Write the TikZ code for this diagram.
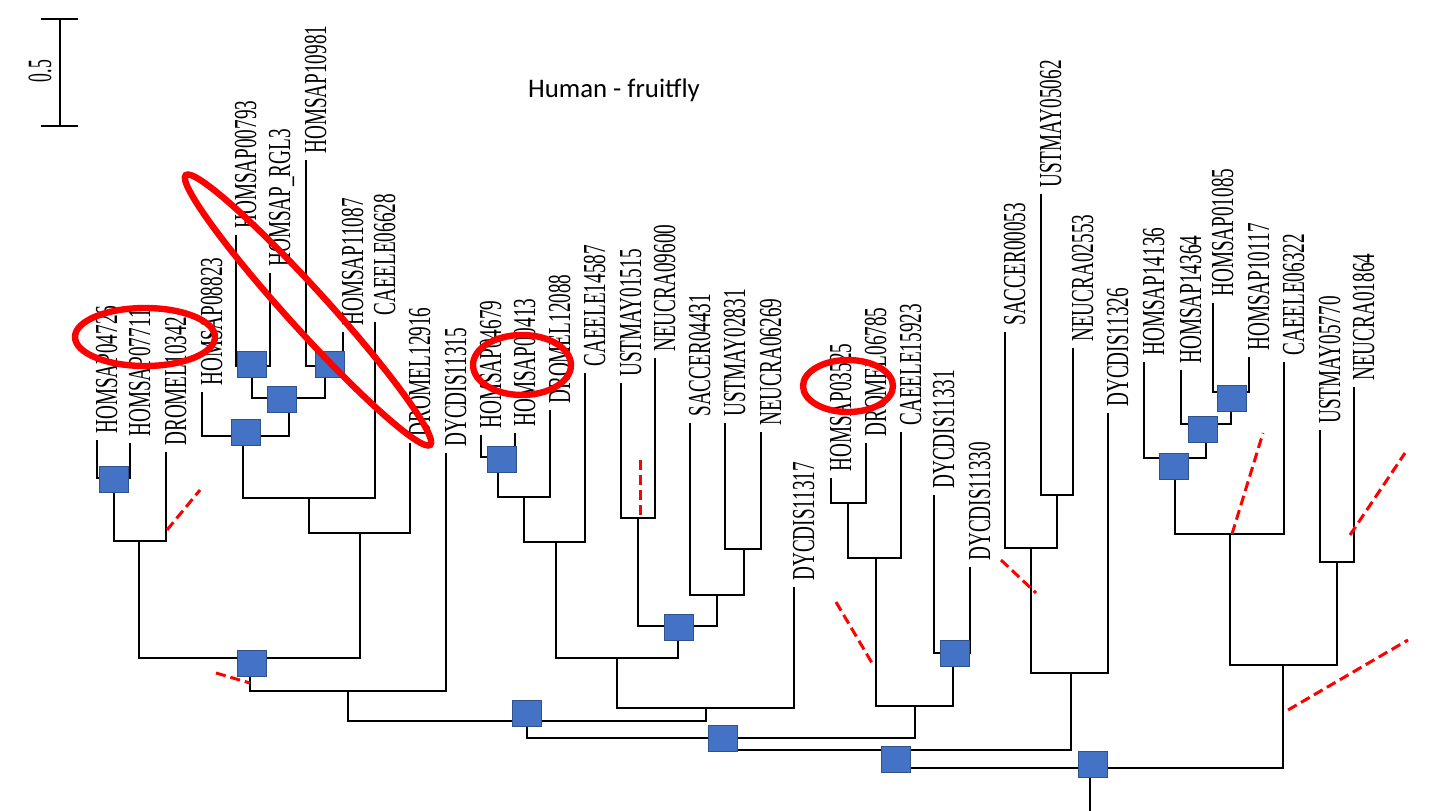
\documentclass[tikz,border=0pt]{standalone}
\usepackage{fontspec}
\newfontfamily\leaffont{Liberation Serif}
\newfontfamily\titlefont{Carlito}
\definecolor{dupblue}{RGB}{68,114,196}
\definecolor{dupedge}{RGB}{47,82,143}

\begin{document}
\begin{tikzpicture}[x=0.5pt, y=-0.5pt,
  branch/.style={line width=1pt},
  leaflab/.style={rotate=90, anchor=base west, inner sep=0pt, font=\leaffont\fontsize{16}{16}\selectfont},
  dupbox/.style={draw=dupedge, line width=0.4pt, fill=dupblue, minimum width=14.5pt, minimum height=13pt, inner sep=0pt},
  redring/.style={red, line width=3.2pt},
  reddash/.style={red, line width=1.5pt, dash pattern=on 5pt off 2.5pt}]
  \useasboundingbox (0,0) rectangle (1440,810);

  % Scale bar
  \coordinate (sbtop) at (60,19);
  \coordinate (sbbot) at (60,126);
  \draw[branch] (sbtop) -- (sbbot);
  \draw[branch] (41,19) -- (78,19);
  \draw[branch] (41,126) -- (78,126);
  \node[rotate=90, inner sep=0pt, font=\leaffont\fontsize{17}{17}\selectfont] (sblab) at (40,71) {\scalebox{0.52}[1]{0.5}};

  % Title
  \node[font=\titlefont\fontsize{13.4}{16}\selectfont, anchor=base] (title) at (614,97) {Human - fruitfly};

  % Leaves
  \foreach \i/\x/\y/\lab in {1/97/440/HOMSAP04726, 2/130/443/HOMSAP07711, 3/166/452/DROMEL10342,
      4/202/392/HOMSAP08823, 5/236/235/HOMSAP00793, 6/270/273/HOMSAP\_RGL3, 7/306/160/HOMSAP10981,
      8/343/332/HOMSAP11087, 9/375/322/CAEELE06628, 10/410/443/DROMEL12916, 11/446/453/DYCDIS11315,
      12/481/435/HOMSAP04679, 13/515/433/HOMSAP00413, 14/550/410/DROMEL12088, 15/585/373/CAEELE14587,
      16/621/383/USTMAY01515, 17/655/358/NEUCRA09600, 18/690/423/SACCER04431, 19/725/423/USTMAY02831,
      20/761/432/NEUCRA06269, 21/794/587/DYCDIS11317, 22/831/478/HOMSAP03525, 23/866/443/DROMEL06785,
      24/901/432/CAEELE15923, 25/934/495/DYCDIS11331, 26/970/567/DYCDIS11330, 27/1005/332/SACCER00053,
      28/1041/194/USTMAY05062, 29/1073/348/NEUCRA02553, 30/1108/413/DYCDIS11326, 31/1144/362/HOMSAP14136,
      32/1181/370/HOMSAP14364, 33/1213/303/HOMSAP01085, 34/1249/357/HOMSAP10117, 35/1284/362/CAEELE06322,
      36/1320/430/USTMAY05770, 37/1354/387/NEUCRA01864}{
    \coordinate (l\i) at (\x,\y);
    \node[leaflab] (t\i) at (\x+20,\y-6) {\scalebox{0.6}[1]{\lab}};
  }

  % Internal nodes
  \foreach \n/\x/\y in {a1/114/478, a2/139/541, a3/252/366, a4/325/366, a5/289/398, a6/243/436,
      a7/309/498, a8/360/533, a9/250/658, a10/348/691,
      b1/498/457, b2/524/497, b3/556/542, b4/638/518, b5/744/549, b6/717/595, b7/678/626,
      b8/617/658, b9/706/708,
      c1/848/503, c2/876/558, c3/953/653, c4/915/706,
      d1/1057/495, d2/1031/548, d3/1071/673,
      e1/1231/392, e2/1206/424, e3/1175/458, e4/1230/534, e5/1337/562, e6/1283/665,
      r1/527/721, r2/721/738, r3/897/750, r4/1090/768}
    \coordinate (\n) at (\x,\y);
  \coordinate (stem) at (1090,812);

  % Branches
  \foreach \p/\c in {a1/l1, a1/l2, a2/a1, a2/l3, a3/l5, a3/l6, a4/l7, a4/l8, a5/a3, a5/a4,
      a6/l4, a6/a5, a7/a6, a7/l9, a8/a7, a8/l10, a9/a2, a9/a8, a10/a9, a10/l11,
      b1/l12, b1/l13, b2/b1, b2/l14, b3/b2, b3/l15, b4/l16, b4/l17, b5/l19, b5/l20,
      b6/l18, b6/b5, b7/b4, b7/b6, b8/b3, b8/b7, b9/b8, b9/l21,
      c1/l22, c1/l23, c2/c1, c2/l24, c3/l25, c3/l26, c4/c2, c4/c3,
      d1/l28, d1/l29, d2/l27, d2/d1, d3/d2, d3/l30,
      e1/l33, e1/l34, e2/l32, e2/e1, e3/l31, e3/e2, e4/e3, e4/l35, e5/l36, e5/l37, e6/e4, e6/e5,
      r1/a10, r1/b9, r2/r1, r2/c4, r3/r2, r3/d3, r4/r3, r4/e6}
    \draw[branch] (\p) -| (\c);
  \draw[branch] (r4) -- (stem);

  % Duplication boxes
  \foreach \i/\x/\y in {1/114/479, 2/252/364, 3/330/364, 4/282/399, 5/246/432, 6/502/459,
      7/252/663, 8/679/627, 9/527/713, 10/723/738, 11/955/653, 12/896/759, 13/1093/764,
      14/1232/398, 15/1203/429, 16/1174/466}
    \node[dupbox] (dup\i) at (\x,\y) {};

  % Red marks
  \draw[reddash] (167,530) -- (200,490);
  \draw[reddash] (216,673) -- (250,683);
  \draw[reddash] (640,460) -- (640,518);
  \draw[reddash] (836,602) -- (872,663);
  \draw[reddash] (1001,560) -- (1036,593);
  \draw[reddash] (1232,534) -- (1263,433);
  \draw[reddash] (1350,535) -- (1405,453);
  \draw[reddash] (1288,710) -- (1408,640);

  \draw[redring] (145,337) ellipse [x radius=70, y radius=29];
  \draw[redring, rotate around={-47.8:(308,310)}] (308,310) ellipse [x radius=182, y radius=20];
  \draw[redring] (522,365) ellipse [x radius=49, y radius=30];
  \draw[redring] (848,386) ellipse [x radius=45, y radius=26];
\end{tikzpicture}
\end{document}
